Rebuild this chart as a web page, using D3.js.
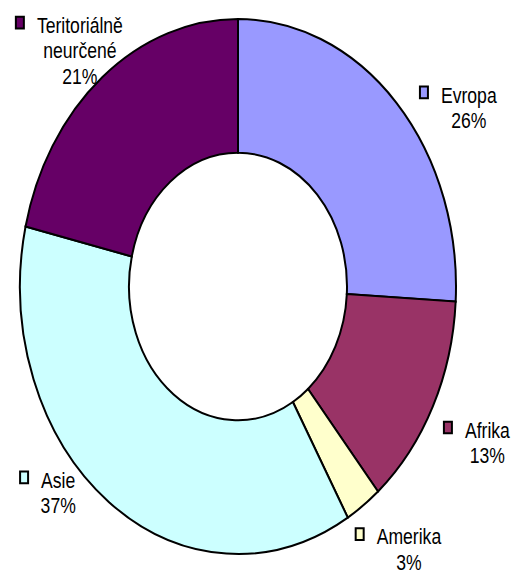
<!DOCTYPE html>
<html>
<head>
<meta charset="utf-8">
<script src="https://cdn.jsdelivr.net/npm/d3@7"></script>
<style>
  body { margin: 0; background: #fff; }
  text { font-family: "Liberation Sans", Arial, sans-serif; fill: #000; }
</style>
</head>
<body>
<svg id="chart" width="517" height="573"></svg>
<script>
// data, clockwise from 12 o'clock
const categories = ["Evropa", "Afrika", "Amerika", "Asie", "Teritoriálně neurčené"];
const shares = [25.9, 13.0, 2.7, 37.0, 21.4];
const colors = ["#9999ff", "#993366", "#ffffcc", "#ccffff", "#660066"];

// label placement: shift from slice mid angle (deg) and distance from centre
const labelShift = [11.1, 0.4, -3.5, 10.6, -0.9];
const labelRadius = [273, 280, 274, 246, 249];

const width = 517, height = 573;
const cx = 238, cy = 286.5;
const outerR = 218, innerR = 109;
const sy = 267.5 / 218; // the picture is stretched vertically
const fontSize = 17.6, lineH = 20.8, capH = 0.716 * fontSize;

const svg = d3.select("#chart");

const pie = d3.pie().sort(null).value(d => d);
const arcs = pie(shares);
const arc = d3.arc().innerRadius(innerR).outerRadius(outerR);

svg.append("g")
  .attr("transform", `translate(${cx},${cy}) scale(1,${sy})`)
  .selectAll("path")
  .data(arcs)
  .join("path")
  .attr("d", arc)
  .attr("fill", (d, i) => colors[i])
  .attr("stroke", "#000")
  .attr("stroke-width", 2)
  .attr("vector-effect", "non-scaling-stroke");

// labels with legend key
const labels = svg.append("g").selectAll("g")
  .data(arcs)
  .join("g")
  .attr("transform", (d, i) => {
    const a = (d.startAngle + d.endAngle) / 2 + labelShift[i] * Math.PI / 180;
    const x = cx + labelRadius[i] * Math.sin(a);
    const y = cy - labelRadius[i] * Math.cos(a) * sy;
    return `translate(${x},${y}) scale(1,${sy})`;
  });

labels.each(function(d, i) {
  const g = d3.select(this);
  const lines = categories[i].split(" ").concat([Math.round(shares[i]) + "%"]);
  const top = -(lines.length - 1) * lineH / 2 + capH / 2;
  const t = g.append("text")
    .attr("text-anchor", "middle")
    .style("font-size", fontSize + "px");
  lines.forEach((s, k) => {
    t.append("tspan").attr("x", 0).attr("y", top + k * lineH).text(s);
  });
  const w = t.select("tspan").node().getComputedTextLength();
  g.append("rect")
    .attr("x", -w / 2 - 21)
    .attr("y", top - 13)
    .attr("width", 8)
    .attr("height", 9.5)
    .attr("fill", colors[i])
    .attr("stroke", "#000")
    .attr("stroke-width", 2)
    .attr("vector-effect", "non-scaling-stroke");
});
</script>
</body>
</html>
